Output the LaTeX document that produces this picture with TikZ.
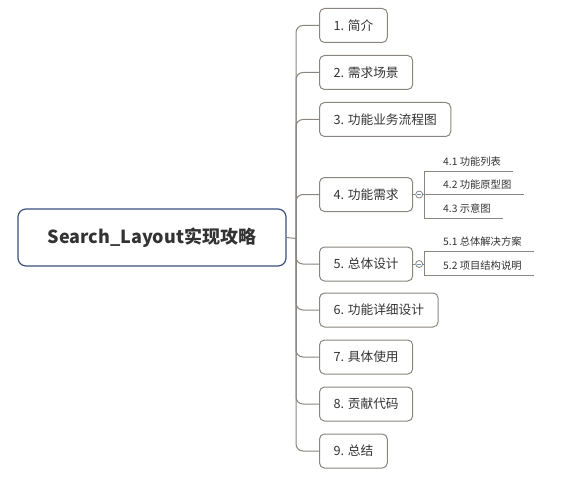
\documentclass[tikz,border=0pt]{standalone}
\usepackage{fontspec}
\setmainfont{Noto Sans CJK SC}
\usepackage{tikz}
\usetikzlibrary{calc}

\definecolor{rootblue}{HTML}{3A5080}
\definecolor{boxgray}{HTML}{8A8580}
\definecolor{txtgray}{HTML}{333333}
\definecolor{minusblue}{HTML}{6F8FC8}

\tikzset{
  rootbox/.style={draw=rootblue, line width=1.2pt, rounded corners=8pt,
    minimum width=268pt, minimum height=57pt, text=txtgray,
    font=\fontsize{18}{20}\selectfont\bfseries},
  topicbox/.style={draw=boxgray, line width=1pt, rounded corners=5pt,
    anchor=west, minimum height=34pt, inner xsep=14pt, text=txtgray,
    font=\fontsize{12.7}{14}\selectfont},
  subtopic/.style={anchor=base west, inner sep=0pt, text=txtgray,
    font=\fontsize{10.3}{12}\selectfont},
  fold/.style={circle, draw=boxgray, fill=white, line width=0.8pt,
    minimum size=7pt, inner sep=0pt},
  link/.style={draw=boxgray, line width=1pt}
}

\begin{document}
\begin{tikzpicture}[x=1pt, y=-1pt]
\useasboundingbox (0,0) rectangle (572,489);

\node[rootbox] (root) at (152,237.5) {Search\_Layout实现攻略};
\coordinate (trunk) at (296,238.5);

\node[topicbox] (t1) at (319,25.5) {1. 简介};
\node[topicbox] (t2) at (319,72.5) {2. 需求场景};
\node[topicbox] (t3) at (319,119.5) {3. 功能业务流程图};
\node[topicbox] (t4) at (319,194.5) {4. 功能需求};
\node[topicbox] (t5) at (319,264) {5. 总体设计};
\node[topicbox] (t6) at (319,310) {6. 功能详细设计};
\node[topicbox] (t7) at (319,357) {7. 具体使用};
\node[topicbox] (t8) at (319,404) {8. 贡献代码};
\node[topicbox] (t9) at (319,451) {9. 总结};

\draw[link] (root.east) -- (trunk);
\foreach \t in {t1,t2,t3,t4,t5,t6,t7,t8,t9}
  \draw[link, rounded corners=7pt] (trunk) |- (\t.west);

%% sub topics of 4
\node[fold] (f4) at ($(t4.east)+(6pt,0)$) {};
\draw[minusblue, line width=0.6pt] ([xshift=-2pt]f4.center) -- ([xshift=2pt]f4.center);
\draw[link] (t4.east) -- (f4.west);
\node[subtopic] (s41) at (443,165) {4.1 功能列表};
\node[subtopic] (s42) at (443,188.5) {4.2 功能原型图};
\node[subtopic] (s43) at (443,212) {4.3 示意图};
\foreach \s in {s41,s42,s43}
  \draw[link] ([shift={(-19pt,-6pt)}]\s.base west) -- ([shift={(12pt,-6pt)}]\s.base east);
\draw[link] ([shift={(-19pt,-6pt)}]s41.base west) -- ([shift={(-19pt,-6pt)}]s43.base west);
\draw[link] (f4.east) -- ([shift={(-19pt,-6pt)}]s42.base west);

%% sub topics of 5
\node[fold] (f5) at ($(t5.east)+(6pt,0)$) {};
\draw[minusblue, line width=0.6pt] ([xshift=-2pt]f5.center) -- ([xshift=2pt]f5.center);
\draw[link] (t5.east) -- (f5.west);
\node[subtopic] (s51) at (443,245) {5.1 总体解决方案};
\node[subtopic] (s52) at (443,269) {5.2 项目结构说明};
\foreach \s in {s51,s52}
  \draw[link] ([shift={(-19pt,-6pt)}]\s.base west) -- ([shift={(12pt,-6pt)}]\s.base east);
\draw[link] ([shift={(-19pt,-6pt)}]s51.base west) -- ([shift={(-19pt,-6pt)}]s52.base west);
\coordinate (j5) at ($(s51.base west)!0.5!(s52.base west)+(-19pt,-6pt)$);
\draw[link] (f5.east) -- (f5.east -| j5);
\end{tikzpicture}
\end{document}
